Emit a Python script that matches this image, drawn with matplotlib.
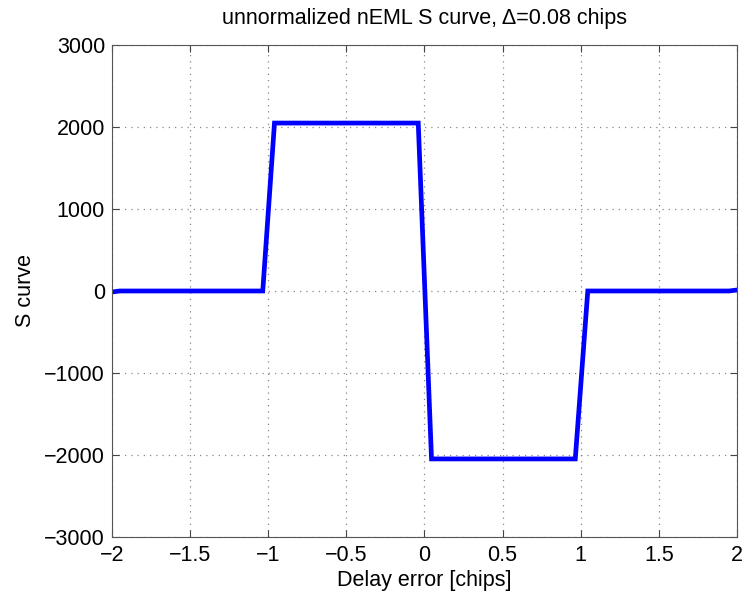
import numpy as np
import matplotlib
matplotlib.use('Agg')
import matplotlib.pyplot as plt

# S curve breakpoints (delay error in chips, discriminator output)
delay = [-2.0, -1.95, -1.035, -0.96, -0.04, 0.045, 0.965, 1.045, 1.95, 2.0]
s_curve = [-12, 0, 0, 2048, 2048, -2048, -2048, 0, 0, 12]

x_ticks = [-2, -1.5, -1, -0.5, 0, 0.5, 1, 1.5, 2]
x_labels = ['\u22122', '\u22121.5', '\u22121', '\u22120.5', '0', '0.5', '1', '1.5', '2']
y_ticks = [-3000, -2000, -1000, 0, 1000, 2000, 3000]
y_labels = ['\u22123000', '\u22122000', '\u22121000', '0', '1000', '2000', '3000']

plt.rcParams['font.family'] = ['Liberation Sans', 'DejaVu Sans']

fig = plt.figure(figsize=(7.44, 5.95), dpi=100)
ax = fig.add_axes([0.1505, 0.0975, 0.8401, 0.8269])

ax.plot(delay, s_curve, color='#0000ff', linewidth=3.4, solid_joinstyle='miter')

ax.set_xlim(-2, 2)
ax.set_ylim(-3000, 3000)
ax.set_xticks(x_ticks)
ax.set_xticklabels(x_labels)
ax.set_yticks(y_ticks)
ax.set_yticklabels(y_labels)
ax.tick_params(direction='in', top=True, right=True, labelsize=15.5, length=5, color='#444444')
ax.tick_params(axis='x', pad=6)
ax.tick_params(axis='y', pad=5)
ax.grid(True, linestyle=(0, (1, 4)), color='#888888', linewidth=0.9)
for sp in ax.spines.values():
    sp.set_color('#555555')

ax.set_xlabel('Delay error [chips]', fontsize=15.5, labelpad=3)
ax.set_ylabel('S curve', fontsize=15.5, labelpad=6)
ax.set_title('unnormalized nEML S curve, \u0394=0.08 chips', fontsize=15.5, pad=15)

fig.savefig('out.png', dpi=100)
